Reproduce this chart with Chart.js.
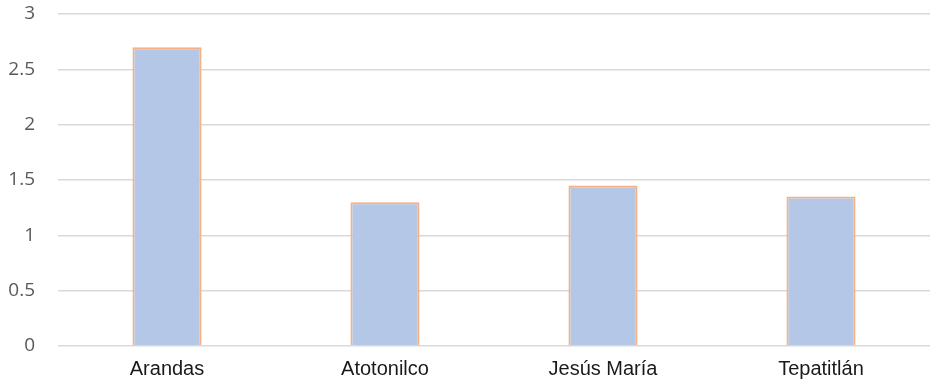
<!DOCTYPE html>
<html>
<head>
<meta charset="utf-8">
<script src="https://cdn.jsdelivr.net/npm/chart.js@4/dist/chart.umd.min.js"></script>
<style>
  html, body { margin: 0; padding: 0; background: #fff; }
  #chart { display: block; }
</style>
</head>
<body>
<canvas id="chart" width="930" height="383"></canvas>
<script>
// municipios y valores
const municipios = ['Arandas', 'Atotonilco', 'Jesús María', 'Tepatitlán'];
const valores = [2.7, 1.3, 1.45, 1.35];
const yTicks = [0, 0.5, 1, 1.5, 2, 2.5, 3];

new Chart(document.getElementById('chart'), {
    type: 'bar',
    data: {
        labels: municipios,
        datasets: [{
            data: valores,
            backgroundColor: '#b4c7e7',
            borderColor: '#f6b084',
            borderWidth: 2,
            categoryPercentage: 1,
            barPercentage: 0.317
        }]
    },
    options: {
        responsive: false,
        animation: false,
        layout: { padding: { top: 14, right: 0, left: 0, bottom: 0 } },
        plugins: {
            legend: { display: false },
            tooltip: { enabled: false }
        },
        scales: {
            x: {
                grid: { display: false },
                border: { display: false },
                ticks: {
                    color: '#1a1a1a',
                    padding: 3,
                    font: { family: 'Liberation Sans', size: 20 }
                },
                afterFit: (scale) => {
                    scale.height = 37;
                    scale.paddingLeft = 0;
                    scale.paddingRight = 0;
                }
            },
            y: {
                min: 0,
                max: 3,
                afterBuildTicks: (scale) => {
                    scale.ticks = yTicks.map(v => ({ value: v }));
                },
                grid: { color: '#d9d9d9', lineWidth: 1.5, drawTicks: false },
                border: { display: false },
                ticks: {
                    color: '#595959',
                    padding: 23,
                    font: { family: 'Open Sans', size: 19 },
                    callback: (v) => String(v)
                },
                afterFit: (scale) => {
                    scale.width = 58;
                    scale.paddingTop = 0;
                    scale.paddingBottom = 0;
                }
            }
        }
    }
});
</script>
</body>
</html>
